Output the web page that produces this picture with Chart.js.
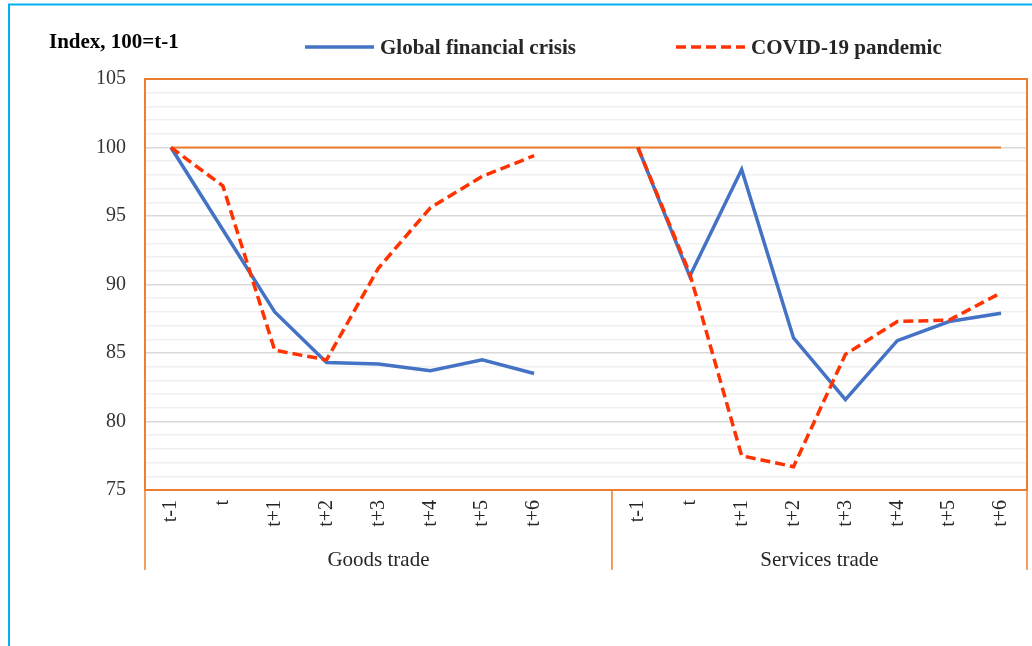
<!DOCTYPE html>
<html>
<head>
<meta charset="utf-8">
<script src="https://cdn.jsdelivr.net/npm/chart.js@4/dist/chart.umd.min.js"></script>
<style>
  html, body { margin: 0; padding: 0; background: #ffffff; }
  #wrap { position: relative; width: 1032px; height: 646px; }
</style>
</head>
<body>
<div id="wrap"><canvas id="c" width="1032" height="646"></canvas></div>
<script>
// ---------------- data ----------------
const categories = ['t-1', 't', 't+1', 't+2', 't+3', 't+4', 't+5', 't+6', '',
                    't-1', 't', 't+1', 't+2', 't+3', 't+4', 't+5', 't+6'];
const groupLabels = ['Goods trade', 'Services trade'];
const groupStart = [0, 9];            // first category index of each group
const gfcValues = [100, 94.0, 88.0, 84.3, 84.2, 83.7, 84.5, 83.5, null,
                   100, 90.6, 98.4, 86.1, 81.6, 85.9, 87.3, 87.9];
const covidValues = [100, 97.2, 85.2, 84.5, 91.2, 95.6, 97.9, 99.4, null,
                     100, 90.8, 77.5, 76.7, 84.9, 87.3, 87.4, 89.4];
const baselineValues = [100, 100, 100, 100, 100, 100, 100, 100, 100,
                        100, 100, 100, 100, 100, 100, 100, 100];
const seriesNames = ['Global financial crisis', 'COVID-19 pandemic'];
const yAxisTitle = 'Index, 100=t-1';
const yMin = 75, yMax = 105, yMajor = 5, yMinor = 1;

// ---------------- style ----------------
const ORANGE = '#ED7D31';
const BLUE = '#4472C4';
const RED = '#FF3300';
const CYAN = '#00B0F0';
const SERIF = '"Liberation Serif", "Times New Roman", serif';

const decorations = {
  id: 'decorations',
  afterDraw(chart) {
    const { ctx, chartArea, scales } = chart;
    const { left, right, top, bottom } = chartArea;
    const x = scales.x;
    const groupBottom = bottom + 80;
    ctx.save();

    // plot frame (top + right)
    ctx.strokeStyle = ORANGE;
    ctx.lineWidth = 2;
    ctx.beginPath();
    ctx.moveTo(left - 1, top);
    ctx.lineTo(right, top);
    ctx.lineTo(right, bottom + 1);
    ctx.stroke();

    // group separators below the axis
    const bounds = [left];
    for (let g = 1; g < groupStart.length; g++) {
      const i = groupStart[g];
      bounds.push((x.getPixelForTick(i - 1) + x.getPixelForTick(i)) / 2);
    }
    bounds.push(right);
    ctx.lineWidth = 1.5;
    bounds.forEach(bx => {
      ctx.beginPath();
      ctx.moveTo(bx, bottom);
      ctx.lineTo(bx, groupBottom);
      ctx.stroke();
    });

    // group labels
    ctx.fillStyle = '#262626';
    ctx.font = '21px ' + SERIF;
    ctx.textAlign = 'center';
    ctx.textBaseline = 'alphabetic';
    groupLabels.forEach((lab, g) => {
      ctx.fillText(lab, (bounds[g] + bounds[g + 1]) / 2, bottom + 76);
    });

    // axis title
    ctx.fillStyle = '#000000';
    ctx.font = 'bold 21px ' + SERIF;
    ctx.textAlign = 'left';
    ctx.fillText(yAxisTitle, 49, 48);

    // legend
    const legendItems = [
      { ds: chart.data.datasets[1], x: 305 },
      { ds: chart.data.datasets[0], x: 676 }
    ];
    legendItems.forEach(item => {
      const ds = item.ds;
      ctx.strokeStyle = ds.borderColor;
      ctx.lineWidth = ds.borderWidth;
      ctx.setLineDash(ds.borderDash || []);
      ctx.lineCap = 'butt';
      ctx.beginPath();
      ctx.moveTo(item.x, 47);
      ctx.lineTo(item.x + 69, 47);
      ctx.stroke();
      ctx.setLineDash([]);
      ctx.fillStyle = '#262626';
      ctx.font = 'bold 21px ' + SERIF;
      ctx.fillText(ds.label, item.x + 75, 54);
    });

    // outer cyan frame
    ctx.strokeStyle = CYAN;
    ctx.lineWidth = 2;
    ctx.beginPath();
    ctx.moveTo(9, 646);
    ctx.lineTo(9, 4.5);
    ctx.lineTo(1032, 4.5);
    ctx.stroke();

    ctx.restore();
  }
};

new Chart(document.getElementById('c'), {
  type: 'line',
  data: {
    labels: categories,
    datasets: [
      {
        label: seriesNames[1],
        data: covidValues,
        borderColor: RED,
        backgroundColor: RED,
        borderWidth: 3.5,
        borderDash: [10, 5],
        pointRadius: 0,
        tension: 0,
        spanGaps: false
      },
      {
        label: seriesNames[0],
        data: gfcValues,
        borderColor: BLUE,
        backgroundColor: BLUE,
        borderWidth: 3.5,
        pointRadius: 0,
        tension: 0,
        spanGaps: false
      },
      {
        label: 'baseline',
        data: baselineValues,
        borderColor: ORANGE,
        backgroundColor: ORANGE,
        borderWidth: 2,
        pointRadius: 0,
        tension: 0
      }
    ]
  },
  options: {
    responsive: false,
    animation: false,
    devicePixelRatio: 1,
    layout: { padding: { top: 79, right: 5, bottom: 76, left: 0 } },
    plugins: {
      legend: { display: false },
      title: { display: false },
      tooltip: { enabled: false }
    },
    scales: {
      x: {
        type: 'category',
        offset: true,
        grid: { display: false, drawTicks: false },
        border: { display: true, color: ORANGE, width: 2 },
        ticks: {
          autoSkip: false,
          minRotation: 90,
          maxRotation: 90,
          padding: 10,
          color: '#262626',
          font: { family: SERIF, size: 20 }
        },
        afterFit(scale) {
          scale.height = 80;
          scale.paddingLeft = 0;
          scale.paddingRight = 0;
        }
      },
      y: {
        min: yMin,
        max: yMax,
        grid: {
          drawTicks: false,
          color: c => (c.tick.value % yMajor === 0 ? '#d9d9d9' : '#f0f0f0'),
          lineWidth: 1.5
        },
        border: { display: true, color: ORANGE, width: 2 },
        ticks: {
          stepSize: yMinor,
          autoSkip: false,
          padding: 19,
          color: '#333333',
          font: { family: SERIF, size: 20 },
          callback: v => (v % yMajor === 0 ? String(v) : '')
        },
        afterFit(scale) {
          scale.width = 145;
          scale.paddingTop = 0;
          scale.paddingBottom = 0;
        }
      }
    }
  },
  plugins: [decorations]
});
</script>
</body>
</html>
